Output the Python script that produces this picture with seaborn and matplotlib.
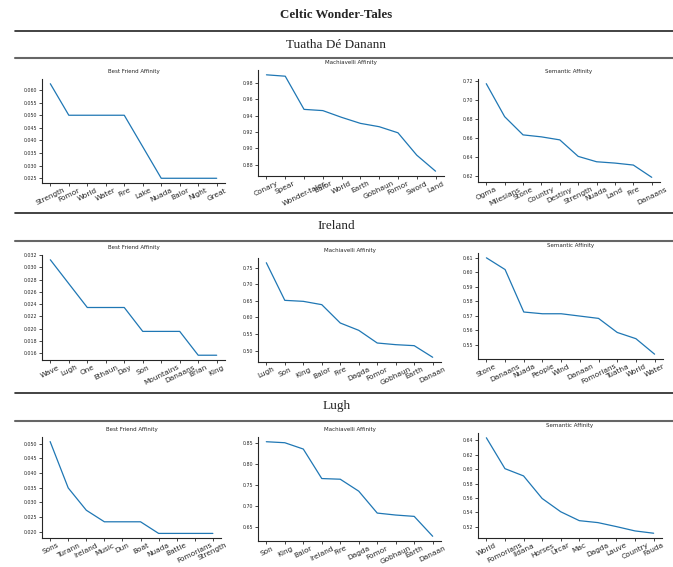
import matplotlib
matplotlib.use("Agg")
import matplotlib.pyplot as plt
from matplotlib.lines import Line2D
import seaborn as sns

# ---------------- data ----------------
fig_title = "Celtic Wonder-Tales"
row_titles = ["Tuatha Dé Danann", "Ireland", "Lugh"]
plot_titles = ["Best Friend Affinity", "Machiavelli Affinity", "Semantic Affinity"]

tdd_bf_words = ["Strength", "Fomor", "World", "Water", "Fire", "Lake", "Nuada", "Balor", "Night", "Great"]
tdd_bf_vals = [0.0625, 0.050, 0.050, 0.050, 0.050, 0.0375, 0.025, 0.025, 0.025, 0.025]
tdd_ma_words = ["Conary", "Spear", "Wonder-tales", "Balor", "World", "Earth", "Gobhaun", "Fomor", "Sword", "Land"]
tdd_ma_vals = [0.9903, 0.9886, 0.9478, 0.9463, 0.9380, 0.9306, 0.9265, 0.9190, 0.8915, 0.8718]
tdd_se_words = ["Ogma", "Milesians", "Stone", "Country", "Destiny", "Strength", "Nuada", "Land", "Fire", "Danaans"]
tdd_se_vals = [0.7175, 0.6825, 0.6632, 0.6611, 0.6579, 0.6404, 0.6347, 0.6333, 0.6312, 0.6182]

ire_bf_words = ["Wave", "Lugh", "One", "Ethaun", "Day", "Son", "Mountains", "Danaans", "Brian", "King"]
ire_bf_vals = [0.03125, 0.02734, 0.02344, 0.02344, 0.02344, 0.01953, 0.01953, 0.01953, 0.01563, 0.01563]
ire_ma_words = ["Lugh", "Son", "King", "Balor", "Fire", "Dagda", "Fomor", "Gobhaun", "Earth", "Danaan"]
ire_ma_vals = [0.765, 0.6516, 0.6486, 0.6386, 0.5833, 0.5612, 0.523, 0.518, 0.515, 0.480]
ire_se_words = ["Stone", "Danaans", "Nuada", "People", "Wind", "Danaan", "Fomorians", "Tuatha", "World", "Water"]
ire_se_vals = [0.6100, 0.6019, 0.5726, 0.5714, 0.5714, 0.5698, 0.5682, 0.5585, 0.5542, 0.5435]

lugh_bf_words = ["Sons", "Turann", "Ireland", "Music", "Dun", "Boat", "Nuada", "Battle", "Fomorians", "Strength"]
lugh_bf_vals = [0.0507, 0.0349, 0.0273, 0.02336, 0.02336, 0.02336, 0.0194, 0.0194, 0.0194, 0.0194]
lugh_ma_words = ["Son", "King", "Balor", "Ireland", "Fire", "Dagda", "Fomor", "Gobhaun", "Earth", "Danaan"]
lugh_ma_vals = [0.854, 0.8516, 0.8365, 0.7659, 0.7643, 0.7357, 0.6833, 0.6786, 0.6754, 0.6278]
lugh_se_words = ["World", "Fomorians", "Ildana", "Horses", "Urcar", "Mac", "Dagda", "Lauve", "Country", "Fauda"]
lugh_se_vals = [0.6437, 0.6007, 0.5906, 0.5592, 0.5407, 0.5283, 0.5256, 0.5200, 0.5140, 0.5108]

series = [
    [(tdd_bf_words, tdd_bf_vals), (tdd_ma_words, tdd_ma_vals), (tdd_se_words, tdd_se_vals)],
    [(ire_bf_words, ire_bf_vals), (ire_ma_words, ire_ma_vals), (ire_se_words, ire_se_vals)],
    [(lugh_bf_words, lugh_bf_vals), (lugh_ma_words, lugh_ma_vals), (lugh_se_words, lugh_se_vals)],
]

# ---------------- layout (pixels) ----------------
W, H = 673, 567
# left, right, top, bottom for each axes
boxes = [
    [(42, 225, 79, 183), (258, 444, 70, 176), (478, 660, 79, 182)],
    [(42, 225, 255, 360), (258, 441, 258, 362), (478, 663, 253, 359)],
    [(42, 221, 437, 538), (258, 441, 437, 541), (478, 662, 433, 538)],
]

sns.set_style("ticks")
plt.rcParams["axes.linewidth"] = 0.8

fig = plt.figure(figsize=(W / 100, H / 100), dpi=100)

serif = ["Liberation Serif", "DejaVu Serif"]
fig.text(0.5, 1 - 15 / H, fig_title, ha="center", va="center",
         fontsize=9.3, fontweight="bold", family=serif)

row_title_y = [45, 226, 406]
line_pairs = [(31, 58), (213, 241), (393, 421)]
for i, (ry, (l1, l2)) in enumerate(zip(row_title_y, line_pairs)):
    fig.text(0.5, 1 - ry / H, row_titles[i], ha="center",
             va="center", fontsize=9.5, family=serif)
    fig.add_artist(Line2D([15 / W, 1.0], [1 - l1 / H, 1 - l1 / H],
                          transform=fig.transFigure, color="#222222", lw=1.2))
    fig.add_artist(Line2D([15 / W, 1.0], [1 - l2 / H, 1 - l2 / H],
                          transform=fig.transFigure, color="#666666", lw=1.5))

for r in range(3):
    for c in range(3):
        l, rr, t, b = boxes[r][c]
        ax = fig.add_axes([l / W, 1 - b / H, (rr - l) / W, (b - t) / H])
        words, vals = series[r][c]
        sns.lineplot(x=words, y=vals, ax=ax, sort=False, color="#1f77b4", lw=0.9)
        ax.set_xticks(range(len(words)))
        ax.set_xticklabels(words, rotation=26, fontsize=5.3)
        ax.tick_params(axis="y", labelsize=3.4, length=2, width=0.6, pad=1.5)
        ax.tick_params(axis="x", length=2, width=0.6, pad=1.0)
        ax.set_title(plot_titles[c], fontsize=4.0, pad=4)
        ax.set_xlabel("")
        ax.set_ylabel("")
        sns.despine(ax=ax)

fig.savefig("out.png", dpi=100)
